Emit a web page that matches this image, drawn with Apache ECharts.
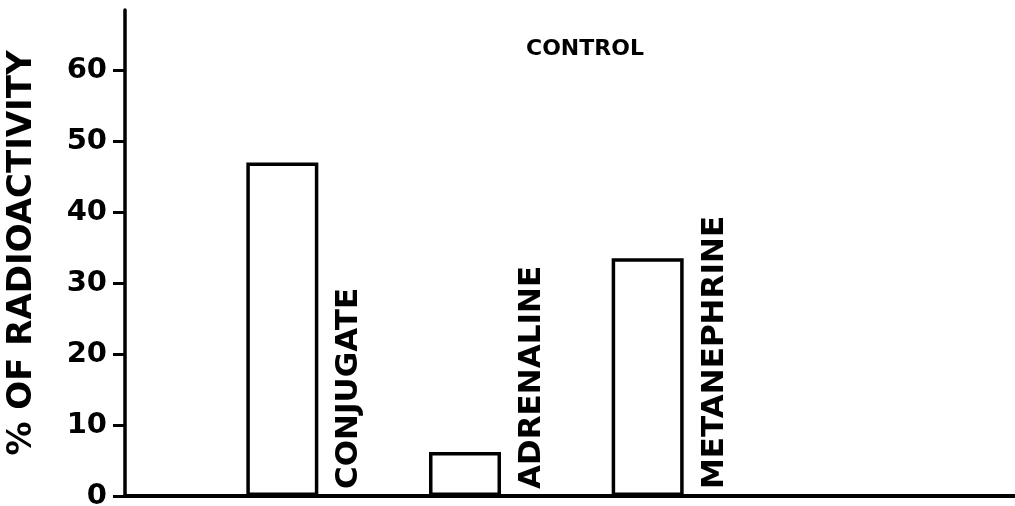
<!DOCTYPE html>
<html><head><meta charset="utf-8">
<script src="https://cdn.jsdelivr.net/npm/echarts@6/dist/echarts.min.js"></script>
<style>html,body{margin:0;padding:0;background:#fff}#c{width:1015px;height:506px}</style>
</head><body><div id="c"></div>
<script>
const chartTitle = 'CONTROL';
const yAxisName = '% OF RADIOACTIVITY';
const categories = ['CONJUGATE', 'ADRENALINE', 'METANEPHRINE'];
const values = [47, 6.2, 33.5];
const yTicks = [0, 10, 20, 30, 40, 50, 60];
const yMax = 68.5;

const FONT = 'DejaVu Sans';
const chart = echarts.init(document.getElementById('c'), null, {renderer: 'canvas'});
chart.setOption({
  animation: false,
  backgroundColor: '#fff',
  title: {
    text: chartTitle, left: 521, top: 33,
    textStyle: {fontFamily: FONT, fontSize: 22, fontWeight: 'bold', color: '#000'}
  },
  grid: [
    {left: 125, right: 0, top: 10, bottom: 10, outerBoundsMode: 'none', containLabel: false},
    {left: 191, right: 276, top: 10, bottom: 10, outerBoundsMode: 'none', containLabel: false}
  ],
  xAxis: [
    {gridIndex: 0, type: 'value', min: 0, max: 1,
     axisLine: {show: true, lineStyle: {color: '#000', width: 4}},
     axisTick: {show: false}, axisLabel: {show: false}, splitLine: {show: false}},
    {gridIndex: 1, type: 'category', data: categories, show: false}
  ],
  yAxis: [
    {gridIndex: 0, type: 'value', min: 0, max: yMax, interval: 10,
     name: yAxisName, nameLocation: 'middle', nameGap: 86,
     nameTextStyle: {fontFamily: FONT, fontSize: 34, fontWeight: 'bold', color: '#000'},
     axisLine: {show: true, lineStyle: {color: '#000', width: 3.5}},
     axisTick: {show: true, customValues: yTicks, length: 12, lineStyle: {color: '#000', width: 3}},
     axisLabel: {show: true, customValues: yTicks, margin: 18, fontFamily: FONT, fontSize: 29,
                 fontWeight: 'bold', color: '#000', padding: [0, 0, 14, 0]},
     splitLine: {show: false}},
    {gridIndex: 1, type: 'value', min: 0, max: yMax, show: false, splitLine: {show: false}}
  ],
  series: [{
    type: 'bar', xAxisIndex: 1, yAxisIndex: 1,
    data: values, barWidth: 72,
    itemStyle: {color: '#fff', borderColor: '#000', borderWidth: 3.5},
    label: {
      show: true, formatter: '{b}', position: ['143%', '100%'], rotate: 90,
      align: 'left', verticalAlign: 'middle', padding: [0, 0, 0, 7],
      fontFamily: FONT, fontSize: 31, fontWeight: 'bold', color: '#000'
    }
  }]
});
</script>
</body></html>
